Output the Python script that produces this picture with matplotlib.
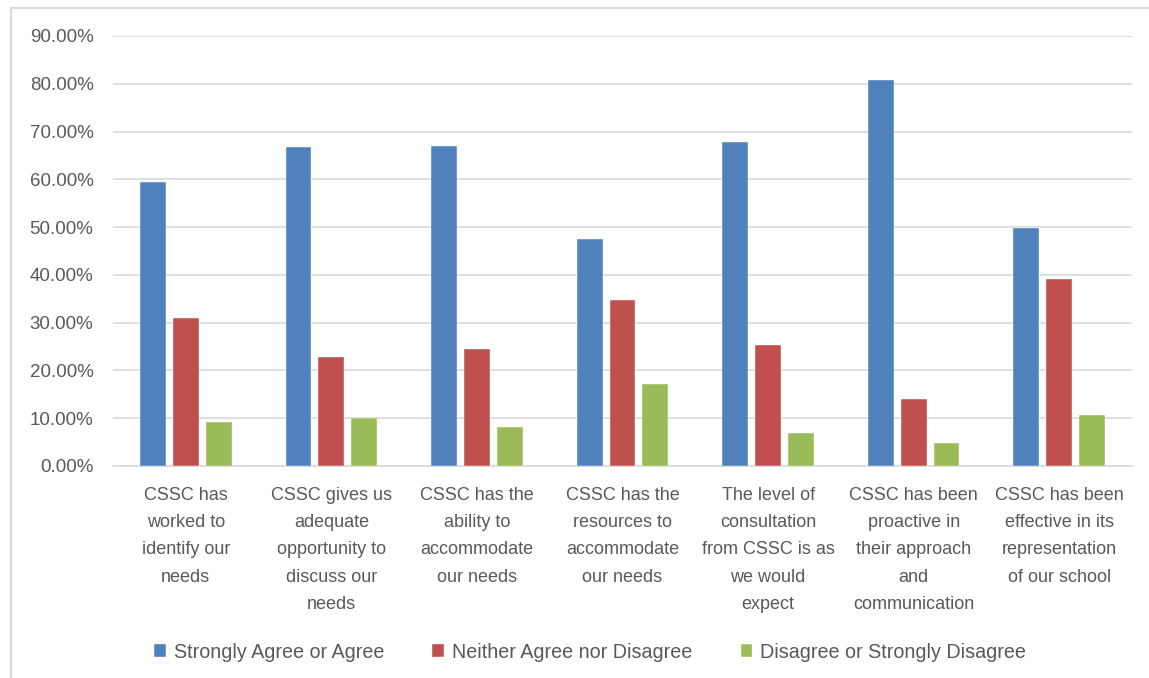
import matplotlib
matplotlib.use("Agg")
import matplotlib.pyplot as plt
import numpy as np
from matplotlib.lines import Line2D
from matplotlib.ticker import FuncFormatter, MultipleLocator

categories = [
    "CSSC has\nworked to\nidentify our\nneeds",
    "CSSC gives us\nadequate\nopportunity to\ndiscuss our\nneeds",
    "CSSC has the\nability to\naccommodate\nour needs",
    "CSSC has the\nresources to\naccommodate\nour needs",
    "The level of\nconsultation\nfrom CSSC is as\nwe would\nexpect",
    "CSSC has been\nproactive in\ntheir approach\nand\ncommunication",
    "CSSC has been\neffective in its\nrepresentation\nof our school",
]
series_names = ["Strongly Agree or Agree", "Neither Agree nor Disagree", "Disagree or Strongly Disagree"]
agree = [59.4, 66.8, 67.0, 47.6, 67.8, 80.8, 49.9]
neither = [30.9, 22.8, 24.5, 34.8, 25.3, 14.0, 39.1]
disagree = [9.3, 10.1, 8.1, 17.2, 6.9, 4.9, 10.6]
colors = ["#4F81BD", "#C0504D", "#9BBB59"]

plt.rcParams['font.family'] = ['Liberation Sans', 'DejaVu Sans']
text_color = "#595959"

fig = plt.figure(figsize=(11.49, 6.78), dpi=100)
ax = fig.add_axes([113/1149, 1 - 466/678, (1132-113)/1149, (466-36)/678])

x = np.arange(len(categories))
w = 0.178
off = 0.226
for i, (vals, name) in enumerate(zip([agree, neither, disagree], series_names)):
    ax.bar(x + (i - 1) * off, vals, width=w, color=colors[i], label=name,
           edgecolor="white", linewidth=0.3, zorder=3)

ax.set_xlim(-0.5, len(categories) - 0.5)
ax.set_ylim(0, 90)
ax.yaxis.set_major_locator(MultipleLocator(10))
ax.yaxis.set_major_formatter(FuncFormatter(lambda v, p: f"{v:.2f}%"))
ax.grid(axis="y", color="#D9D9D9", linewidth=1.2, zorder=0)
for s in ["top", "right", "left"]:
    ax.spines[s].set_visible(False)
ax.spines["bottom"].set_color("#D9D9D9")
ax.spines["bottom"].set_linewidth(1.2)
ax.set_xticks(x)
ax.set_xticklabels(categories, linespacing=1.79, va="top")
ax.tick_params(axis="x", length=0, pad=15, labelsize=13, labelcolor=text_color)
ax.tick_params(axis="y", length=0, pad=14, labelsize=13.5, labelcolor=text_color)

fig.legend(loc="center", bbox_to_anchor=(590/1149, 1 - 652/678), ncol=3, frameon=False,
           fontsize=14.2, labelcolor=text_color, handlelength=0.6, handleheight=0.6,
           handletextpad=0.4, columnspacing=2.45)

fig.add_artist(Line2D([11/1149, 11/1149], [0, 1 - 8/678], transform=fig.transFigure, color="#D9D9D9", linewidth=1.5))
fig.add_artist(Line2D([11/1149, 1], [1 - 8/678, 1 - 8/678], transform=fig.transFigure, color="#D9D9D9", linewidth=1.5))

fig.savefig("out.png", dpi=100)
